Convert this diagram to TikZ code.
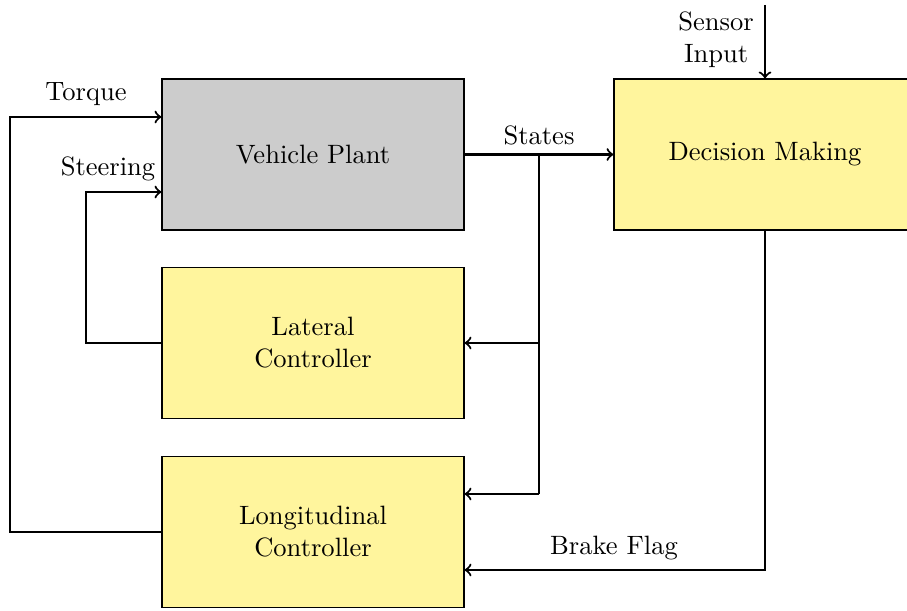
\documentclass[tikz,border=0pt]{standalone}
\usetikzlibrary{calc}
\definecolor{boxyellow}{RGB}{255,245,157}
\begin{document}
\begin{tikzpicture}[x=0.013245cm,y=-0.013245cm,
  block/.style={draw,minimum width=4cm,minimum height=2cm,align=center,inner sep=2pt},
  ybox/.style={block,fill=boxyellow},
  gbox/.style={block,fill=gray!40},
  conn/.style={thick,->},
  line/.style={thick},
  lbl/.style={inner sep=1pt,align=center}]
\useasboundingbox (0,0) rectangle (907,611);
\begin{scope}
\clip (0,0) rectangle (907,611);
\node[gbox] (plant) at (313,154.5) {Vehicle Plant};
\node[ybox] (lat) at (313,343) {Lateral\\Controller};
\node[ybox] (lon) at (313,532) {Longitudinal\\Controller};
\node[ybox] (dec) at (765,154.5) {Decision Making};
\end{scope}
\coordinate (br) at (539,154.5);
\coordinate (sens) at (765,5);
\coordinate (tq) at (10,0);
\coordinate (st) at (86,0);
\coordinate (tqin) at ($(plant.west)+(0,-37.5)$);
\coordinate (stin) at ($(plant.west)+(0,37.5)$);
\draw[conn] (plant.east) -- node[lbl,above=2pt,pos=0.5] {States} (dec.west);
\draw[line] (br) -- (539,494);
\draw[conn] (br |- lat.east) -- (lat.east);
\draw[conn] (539,494) -- ($(lon.east)+(0,-38)$);
\draw[conn] (dec.south) |- ($(lon.east)+(0,38)$);
\node[lbl] at (614,548) {Brake Flag};
\draw[conn] (sens) -- (dec.north);
\node[lbl,anchor=east] at (757,40) {Sensor\\Input};
\draw[conn] (lon.west) -| (tq |- tqin) -- (tqin);
\node[lbl] at (86,94) {Torque};
\draw[conn] (lat.west) -| (st |- stin) -- (stin);
\node[lbl] at (108,169) {Steering};
\end{tikzpicture}
\end{document}
